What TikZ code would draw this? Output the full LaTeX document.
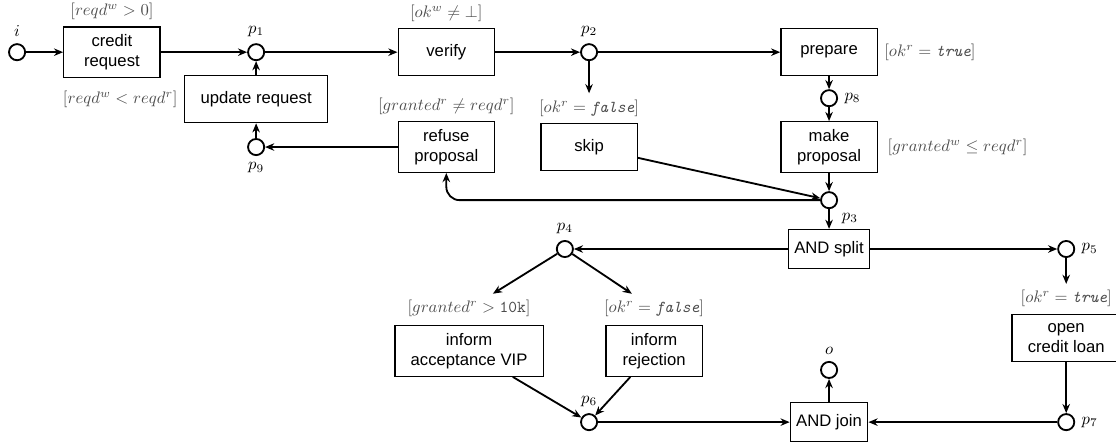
\documentclass[tikz,border=0pt]{standalone}
\usepackage{fontspec}
\setmainfont{Liberation Sans}
\usepackage{amsmath}
\usepackage{amssymb}
\usepackage{tikz}
\usetikzlibrary{positioning,arrows.meta}

\begin{document}
\begin{tikzpicture}[>={Stealth[length=5.5pt,width=4.5pt]}, line width=1.1pt,
    place/.style={circle, draw, line width=1.1pt, minimum size=0.34cm, inner sep=0pt},
    trans/.style={draw, line width=0.8pt, align=center, inner xsep=9.5pt, inner ysep=4.5pt,
      minimum width=2.03cm, minimum height=0.99cm},
    gate/.style={draw, line width=0.8pt, inner sep=3.5pt, minimum height=0.82cm},
    guard/.style={text=black!70}]
      \useasboundingbox (0,0) rectangle (23.53,-9.34);

      % places and transitions
      \node[place, label=above:$i$]   (i)  at (0.36,-1.10) {};
      \node[trans] (credit)  at (2.36,-1.10) {credit\\request};
      \node[place, label=above:$p_1$] (p1) at (5.40,-1.10) {};
      \node[trans] (verify)  at (9.41,-1.10) {verify};
      \node[place, label=above:$p_2$] (p2) at (12.42,-1.10) {};
      \node[trans] (prepare) at (17.48,-1.10) {prepare};

      \node[trans] (update)  at (5.40,-2.09) {update request};
      \node[place, label=right:$p_8$] (p8) at (17.48,-2.07) {};

      \node[place, label=below:$p_9$] (p9) at (5.40,-3.10) {};
      \node[trans] (refuse)  at (9.41,-3.10) {refuse\\proposal};
      \node[trans] (skip)    at (12.42,-3.10) {skip};
      \node[trans] (make)    at (17.48,-3.10) {make\\proposal};

      \node[place, label=below right:$p_3$] (p3) at (17.48,-4.22) {};
      \node[place, label=above:$p_4$] (p4) at (11.91,-5.25) {};
      \node[gate]  (split)   at (17.48,-5.25) {AND split};
      \node[place, label=right:$p_5$] (p5) at (22.48,-5.25) {};

      \node[trans] (vip)     at (9.89,-7.40) {inform\\acceptance VIP};
      \node[trans] (reject)  at (13.79,-7.40) {inform\\rejection};
      \node[trans] (open)    at (22.48,-7.12) {open\\credit loan};
      \node[place, label=above:$o$]   (o)  at (17.48,-7.80) {};

      \node[place, label=above:$p_6$] (p6) at (12.42,-8.90) {};
      \node[gate]  (join)    at (17.48,-8.90) {AND join};
      \node[place, label=right:$p_7$] (p7) at (22.48,-8.90) {};

      % guards
      \node[guard, above=0pt of credit]  (gcredit)  {$[reqd^w > 0]$};
      \node[guard, above=0pt of verify]  (gverify)  {$[ok^w \neq \bot]$};
      \node[guard, left=0pt of update]   (gupdate)  {$[reqd^w < reqd^r]$};
      \node[guard, above=0pt of refuse]  (grefuse)  {$[granted^r \neq reqd^r]$};
      \node[guard, above=0pt of skip]    (gskip)    {$[ok^r = \text{\ttfamily\itshape false}]$};
      \node[guard, right=0pt of prepare] (gprepare) {$[ok^r = \text{\ttfamily\itshape true}]$};
      \node[guard, right=2pt of make]    (gmake)    {$[granted^w \leq reqd^r]$};
      \node[guard, above=1pt of vip]     (gvip)     {$[granted^r > \texttt{10k}]$};
      \node[guard, above=1pt of reject]  (greject)  {$[ok^r = \text{\ttfamily\itshape false}]$};
      \node[guard, above=0pt of open]    (gopen)    {$[ok^r = \text{\ttfamily\itshape true}]$};

      % arcs
      \draw[->] (i) -- (credit);
      \draw[->] (credit) -- (p1);
      \draw[->] (p1) -- (verify);
      \draw[->] (verify) -- (p2);
      \draw[->] (p2) -- (prepare);
      \draw[->] (p2) -- (gskip);
      \draw[->] (prepare) -- (p8);
      \draw[->] (p8) -- (make);
      \draw[->] (make) -- (p3);
      \draw[->] (skip) -- (p3);
      \draw[->, rounded corners=8pt] (p3) -| (refuse);
      \draw[->] (refuse) -- (p9);
      \draw[->] (p9) -- (update);
      \draw[->] (update) -- (p1);

      \draw[->] (p3) -- (split);
      \draw[->] (split) -- (p4);
      \draw[->] (split) -- (p5);
      \draw[->] (p4) -- (gvip);
      \draw[->] (p4) -- (greject);
      \draw[->] (vip) -- (p6);
      \draw[->] (reject) -- (p6);
      \draw[->] (p5) -- (gopen);
      \draw[->] (open) -- (p7);
      \draw[->] (p6) -- (join);
      \draw[->] (p7) -- (join);
      \draw[->] (join) -- (o);

    \end{tikzpicture}
\end{document}
